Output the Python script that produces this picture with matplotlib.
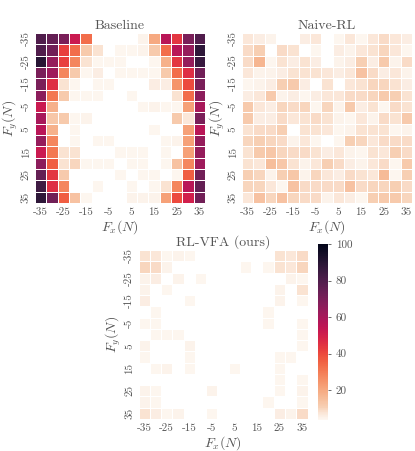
import matplotlib
matplotlib.use("Agg")
import matplotlib.pyplot as plt
import numpy as np
import seaborn as sns
from matplotlib.colors import ListedColormap

# forces (N) along each axis, 15 bins
forces = list(range(-35, 40, 5))
tick_labels = [str(f) for f in forces[::2]]

baseline = np.array([
    [80, 75, 70, 52, 33, 0, 0, 0, 0, 5, 20, 56, 44, 70, 80],
    [80, 72, 42, 33, 12, 8, 0, 4, 4, 5, 12, 33, 56, 64, 88],
    [90, 64, 42, 28, 8, 4, 4, 4, 0, 0, 4, 18, 44, 64, 86],
    [70, 62, 28, 12, 4, 6, 0, 4, 4, 4, 4, 12, 33, 46, 72],
    [70, 46, 8, 4, 0, 4, 4, 0, 0, 0, 6, 6, 25, 40, 70],
    [66, 31, 12, 4, 4, 4, 0, 0, 4, 0, 0, 0, 8, 33, 66],
    [52, 18, 0, 0, 0, 0, 0, 0, 0, 4, 5, 4, 4, 22, 60],
    [60, 13, 12, 4, 5, 0, 0, 0, 0, 0, 0, 0, 12, 7, 70],
    [56, 18, 0, 4, 0, 0, 0, 0, 0, 0, 4, 0, 0, 22, 56],
    [64, 28, 0, 4, 0, 4, 4, 0, 0, 0, 0, 4, 5, 22, 64],
    [52, 31, 8, 8, 0, 0, 0, 4, 4, 4, 0, 4, 0, 22, 64],
    [66, 36, 8, 10, 4, 4, 4, 0, 4, 4, 0, 4, 14, 28, 62],
    [75, 44, 12, 0, 0, 0, 0, 4, 0, 4, 4, 0, 4, 36, 72],
    [84, 46, 28, 0, 0, 4, 0, 0, 4, 0, 4, 8, 28, 56, 75],
    [88, 72, 36, 14, 4, 0, 0, 0, 5, 5, 5, 22, 40, 50, 72],
])

naive_rl = np.array([
    [7, 6, 5, 0, 0, 6, 7, 0, 4, 7, 4, 7, 9, 7, 6],
    [9, 11, 0, 9, 8, 0, 4, 0, 6, 5, 7, 8, 10, 7, 4],
    [9, 17, 4, 8, 6, 8, 6, 0, 5, 6, 11, 6, 12, 5, 9],
    [7, 5, 5, 6, 8, 8, 8, 7, 6, 7, 14, 9, 6, 7, 5],
    [4, 5, 6, 11, 12, 6, 0, 8, 0, 7, 8, 10, 10, 8, 6],
    [6, 7, 12, 5, 6, 4, 6, 7, 7, 9, 9, 10, 12, 11, 8],
    [12, 7, 6, 10, 9, 10, 4, 10, 5, 12, 6, 8, 4, 9, 8],
    [12, 6, 6, 9, 7, 8, 9, 8, 5, 4, 7, 5, 9, 8, 12],
    [8, 9, 9, 11, 0, 8, 8, 7, 4, 5, 8, 8, 8, 4, 5],
    [10, 11, 10, 9, 5, 7, 4, 0, 4, 11, 10, 7, 9, 9, 9],
    [8, 12, 13, 10, 9, 9, 8, 6, 7, 5, 4, 8, 7, 11, 9],
    [8, 7, 15, 13, 8, 5, 7, 11, 9, 6, 5, 7, 9, 4, 12],
    [11, 10, 5, 11, 13, 5, 10, 7, 6, 9, 8, 7, 16, 4, 11],
    [10, 10, 7, 4, 14, 9, 9, 9, 9, 14, 9, 10, 10, 11, 9],
    [7, 14, 10, 14, 10, 9, 9, 5, 7, 6, 4, 11, 12, 12, 10],
])

rl_vfa = np.array([
    [8, 7, 4, 5, 4, 0, 0, 0, 0, 0, 0, 0, 8, 7, 9],
    [10, 9, 5, 0, 0, 0, 0, 0, 0, 4, 0, 4, 8, 7, 10],
    [5, 6, 0, 5, 0, 4, 0, 0, 0, 0, 0, 0, 0, 5, 4],
    [5, 0, 4, 0, 0, 0, 0, 0, 0, 0, 0, 0, 5, 0, 8],
    [6, 0, 0, 0, 4, 0, 0, 0, 0, 0, 0, 0, 5, 0, 4],
    [0, 4, 0, 0, 0, 0, 0, 0, 0, 0, 0, 4, 0, 0, 0],
    [4, 4, 0, 0, 0, 0, 0, 0, 0, 0, 0, 4, 0, 0, 4],
    [0, 4, 4, 4, 0, 0, 0, 0, 0, 0, 0, 0, 0, 0, 4],
    [5, 0, 0, 0, 5, 0, 0, 0, 0, 0, 0, 0, 0, 0, 4],
    [4, 0, 0, 0, 4, 0, 0, 0, 0, 0, 0, 0, 4, 4, 0],
    [0, 4, 5, 0, 4, 0, 0, 0, 4, 0, 0, 0, 4, 0, 0],
    [0, 0, 0, 0, 0, 0, 0, 0, 0, 0, 0, 0, 4, 0, 4],
    [5, 4, 0, 0, 0, 0, 5, 0, 0, 0, 0, 0, 4, 0, 5],
    [5, 4, 0, 0, 0, 0, 0, 0, 0, 0, 0, 4, 0, 0, 4],
    [8, 6, 4, 5, 0, 0, 4, 0, 0, 0, 0, 0, 6, 5, 9],
])

titles = ["Baseline", "Naive-RL", "RL-VFA (ours)"]

plt.rcParams['font.family'] = 'serif'
plt.rcParams['font.serif'] = ['cmr10', 'DejaVu Serif']
plt.rcParams['mathtext.fontset'] = 'cm'
plt.rcParams['axes.unicode_minus'] = False
txt_col = '#555555'

# rocket_r, faded towards white only at the very low end
base = sns.color_palette("rocket_r", as_cmap=True)
cols = base(np.linspace(0, 1, 256))
t = np.linspace(0, 1, 256)
w = np.clip(1 - t / 0.07, 0, 1) * 0.6
cols[:, :3] = cols[:, :3] * (1 - w[:, None]) + w[:, None]
cmap = ListedColormap(cols)

fig = plt.figure(figsize=(4.15, 4.51), dpi=100)
boxes = [
    [35 / 415, 1 - 203 / 451, 170 / 415, 170 / 451],
    [242 / 415, 1 - 203 / 451, 170 / 415, 170 / 451],
    [138 / 415, 1 - 419 / 451, 170 / 415, 169 / 451],
]

for data, title, box in zip([baseline, naive_rl, rl_vfa], titles, boxes):
    ax = fig.add_axes(box)
    sns.heatmap(data, mask=(data == 0), cmap=cmap, vmin=3.6, vmax=100,
                linewidths=0.6, linecolor='white', square=True, cbar=False, ax=ax)
    ax.set_xticks(np.arange(0, 15, 2) + 0.5)
    ax.set_yticks(np.arange(0, 15, 2) + 0.5)
    ax.set_xticklabels(tick_labels, rotation=0, fontsize=8, color=txt_col)
    ax.set_yticklabels(tick_labels, rotation=90, va='center', fontsize=8, color=txt_col)
    ax.tick_params(length=0, pad=3)
    ax.set_title(title, fontsize=10, color=txt_col, pad=3)
    ax.set_xlabel('$F_x(N)$', fontsize=10, color=txt_col, labelpad=1)
    ax.set_ylabel('$F_y(N)$', fontsize=10, color=txt_col, labelpad=1)
    last = ax

cax = fig.add_axes([318 / 415, 1 - 420 / 451, 10 / 415, 176 / 451])
cb = fig.colorbar(last.collections[0], cax=cax)
cb.outline.set_visible(False)
cb.set_ticks([20, 40, 60, 80, 100])
cb.ax.tick_params(labelsize=8, colors=txt_col, length=2, width=0.6)

fig.savefig("out.png", dpi=100)
